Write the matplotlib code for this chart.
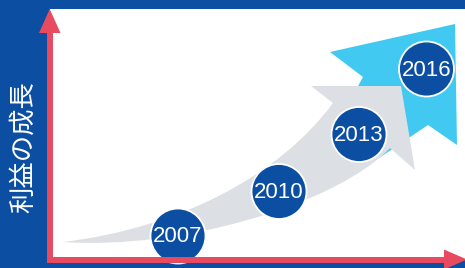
import matplotlib
matplotlib.use("Agg")
import matplotlib.pyplot as plt
from matplotlib.patches import Rectangle, Circle, Polygon, PathPatch
from matplotlib.path import Path

# milestones along the growth arrow (pixel positions)
year_labels = ["2007", "2010", "2013", "2016"]
milestone_x = [178, 279, 359, 426.5]
milestone_y = [236, 191.5, 134.5, 69]
axis_label = "利益の成長"

BLUE = "#0b4ea2"
RED = "#e84a60"
CYAN = "#42c9f1"
GRAY = "#dce0e4"

W, H = 465, 268
fig = plt.figure(figsize=(W / 100, H / 100), dpi=100, facecolor=BLUE)
ax = fig.add_axes([0, 0, 1, 1])
ax.set_xlim(0, W)
ax.set_ylim(H, 0)
ax.axis("off")

# white panel
ax.add_patch(Rectangle((50, 9), W - 50, 250, facecolor="white", edgecolor="none", zorder=0))

# cyan arrow (behind)
cyan = [(455, 24), (457, 145), (428, 125), (376, 160), (350, 150),
        (345, 110), (363, 77), (330, 52)]
ax.add_patch(Polygon(cyan, closed=True, facecolor=CYAN, edgecolor="none", zorder=1))

# gray curved arrow
verts = [(63, 242),
         (180, 228), (280, 175), (333, 103),
         (311, 86), (401, 86), (415, 170), (390, 148),
         (335, 205), (180, 250), (63, 242),
         (63, 242)]
codes = [Path.MOVETO,
         Path.CURVE4, Path.CURVE4, Path.CURVE4,
         Path.LINETO, Path.LINETO, Path.LINETO, Path.LINETO,
         Path.CURVE4, Path.CURVE4, Path.CURVE4,
         Path.CLOSEPOLY]
ax.add_patch(PathPatch(Path(verts, codes), facecolor=GRAY, edgecolor="none", zorder=2))

# milestone circles
for lab, x, y in zip(year_labels, milestone_x, milestone_y):
    ax.add_patch(Circle((x, y), 27.5, facecolor=BLUE, edgecolor="white", lw=1.3, zorder=3))
    ax.text(x, y + 1, lab, color="white", fontsize=16, family="Liberation Sans",
            ha="center", va="center", zorder=4)

# red axes with arrow heads
ax.plot([49.7, 49.7], [262.5, 30], color=RED, lw=4.3, solid_capstyle="butt", zorder=5)
ax.plot([46.7, 446], [259.5, 259.5], color=RED, lw=4.3, solid_capstyle="butt", zorder=5)
ax.add_patch(Polygon([(39, 33), (60.5, 33), (49.7, 9)], closed=True,
                     facecolor=RED, edgecolor="none", zorder=5))
ax.add_patch(Polygon([(444, 249.5), (444, 269.5), (467, 259.5)], closed=True,
                     facecolor=RED, edgecolor="none", zorder=5))

ax.text(23, 147.5, axis_label, color="white", fontsize=19, rotation=90,
        family=["Noto Sans CJK JP", "DejaVu Sans"], ha="center", va="center")

fig.savefig("out.png", dpi=100, facecolor=BLUE)
